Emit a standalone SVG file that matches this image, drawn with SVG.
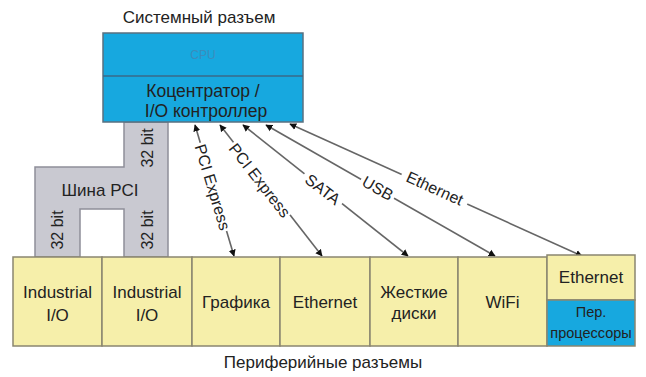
<svg xmlns="http://www.w3.org/2000/svg" width="646" height="377" viewBox="0 0 646 377">
<defs>
<marker id="ah" viewBox="0 0 10 10" refX="9" refY="5" markerWidth="7" markerHeight="8" orient="auto-start-reverse" markerUnits="userSpaceOnUse">
<path d="M0,0 L10,5 L0,10 z" fill="#111"/>
</marker>
</defs>
<style>
text{font-family:"Liberation Sans","DejaVu Sans",sans-serif;fill:#222;}
.cell{fill:#f6efaa;stroke:#8a8670;stroke-width:1.5;}
.blue{fill:#17a8df;stroke:#5a7080;stroke-width:1.5;}
.lbl{font-size:17px;text-anchor:middle;}
.sm{font-size:16px;text-anchor:middle;}
.conn{stroke:#666;stroke-width:1.6;fill:none;marker-start:url(#ah);marker-end:url(#ah);}
.gap{fill:#fff;}
.cl{font-size:16px;text-anchor:middle;}
</style>
<rect width="646" height="377" fill="#fff"/>
<text x="199" y="23" class="lbl">Системный разъем</text>
<text x="323" y="368" class="lbl">Периферийные разъемы</text>

<g id="pci-bus">
<path d="M35,167 H124 V122 H168 V257 H124 V209 H80 V257 H35 Z" fill="#c9c9d1" stroke="#8f8f99" stroke-width="1.5"/>
<text x="100" y="196" class="lbl">Шина PCI</text>
<text transform="translate(153,148) rotate(-90)" class="sm">32 bit</text>
<text transform="translate(63,230) rotate(-90)" class="sm">32 bit</text>
<text transform="translate(153,230) rotate(-90)" class="sm">32 bit</text>
</g>

<g id="cpu">
<rect x="103" y="33" width="200" height="89" class="blue"/>
<line x1="103" y1="76" x2="303" y2="76" stroke="#3a6a88" stroke-width="1.5"/>
<text x="203" y="59" style="font-size:12px;fill:#3b8cbc;text-anchor:middle">CPU</text>
<text x="203" y="97" class="lbl" style="font-size:17.5px">Коцентратор /</text>
<text x="206" y="117" class="lbl" style="font-size:17.5px">I/O контроллер</text>
</g>

<g id="connectors">
<line x1="195" y1="125" x2="234" y2="256" class="conn"/>
<line x1="220" y1="125" x2="322" y2="256" class="conn"/>
<line x1="243" y1="125" x2="408" y2="256" class="conn"/>
<line x1="266" y1="125" x2="495" y2="256" class="conn"/>
<line x1="290" y1="124" x2="582" y2="256" class="conn"/>
<g transform="translate(213,187) rotate(73.2)"><rect x="-46" y="-10" width="92" height="20" class="gap"/><text y="6" class="cl">PCI Express</text></g>
<g transform="translate(260,180) rotate(52)"><rect x="-46" y="-10" width="92" height="20" class="gap"/><text y="6" class="cl">PCI Express</text></g>
<g transform="translate(323,189) rotate(37.8)"><rect x="-24" y="-10" width="48" height="20" class="gap"/><text y="6" class="cl">SATA</text></g>
<g transform="translate(378,188) rotate(29.7)"><rect x="-19" y="-10" width="38" height="20" class="gap"/><text y="6" class="cl">USB</text></g>
<g transform="translate(435,188) rotate(24.4)"><rect x="-36" y="-10" width="72" height="20" class="gap"/><text y="6" class="cl">Ethernet</text></g>
</g>

<g id="io1"><rect x="13" y="257" width="89" height="89" class="cell"/><text x="57.5" y="298" class="lbl">Industrial</text><text x="57.5" y="321" class="lbl">I/O</text></g>
<g id="io2"><rect x="102" y="257" width="90" height="89" class="cell"/><text x="147" y="298" class="lbl">Industrial</text><text x="147" y="321" class="lbl">I/O</text></g>
<g id="graphics"><rect x="192" y="257" width="88" height="89" class="cell"/><text x="236" y="308" class="lbl">Графика</text></g>
<g id="ethernet"><rect x="280" y="257" width="90" height="89" class="cell"/><text x="325" y="308" class="lbl">Ethernet</text></g>
<g id="disks"><rect x="370" y="257" width="88" height="89" class="cell"/><text x="414" y="298" class="lbl">Жесткие</text><text x="414" y="319" class="lbl">диски</text></g>
<g id="wifi"><rect x="458" y="257" width="89" height="89" class="cell"/><text x="502.5" y="308" class="lbl">WiFi</text></g>
<g id="eth-coproc">
<rect x="547" y="255" width="88" height="45" class="cell"/>
<rect x="547" y="300" width="88" height="46" class="blue" style="stroke:#8a8670"/>
<text x="591" y="283" class="lbl">Ethernet</text>
<text x="591" y="317" class="lbl" style="font-size:14.5px">Пер.</text>
<text x="591" y="338" class="lbl" style="font-size:14.5px">процессоры</text>
</g>
</svg>
